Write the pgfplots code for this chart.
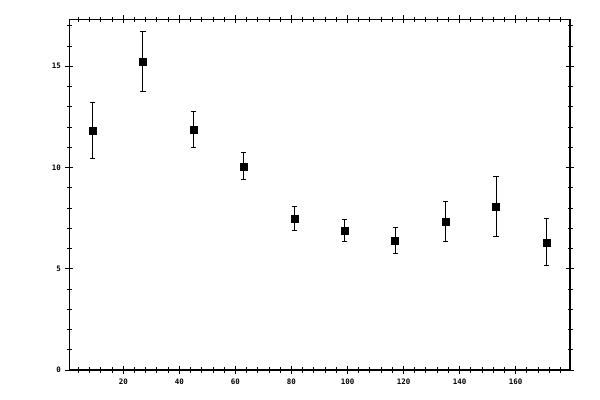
\documentclass[border=0pt]{standalone}
\usepackage{fontspec}
\setmainfont{DejaVu Sans Mono}
\usepackage{pgfplots}
\pgfplotsset{compat=1.18}

\begin{document}
\begin{tikzpicture}
% fixed page: 600 x 400 bp, axis box placed as in the reference
\path[use as bounding box] (-69.3bp,-30bp) rectangle (530.7bp,350.7bp+19.3bp);
\begin{axis}[
    scale only axis,
    width=500.7bp, height=350.7bp,
    at={(0,0)}, anchor=south west,
    xmin=0.7, xmax=179.4,
    ymin=0, ymax=17.32,
    xtick={20,40,...,160},
    ytick={0,5,10,15},
    minor xtick={4,8,...,176},
    minor ytick={1,2,...,17},
    tick pos=both,
    tick align=center,
    major tick length=8bp,
    minor tick length=5bp,
    axis line style={line width=1.1bp},
    every tick/.style={black, line width=1bp},
    tick label style={font=\bfseries\fontsize{7.5}{8}\selectfont},
    /pgf/number format/assume math mode=true,
    xticklabel style={yshift=-1bp},
    yticklabel style={xshift=-1bp},
]
\addplot[
    only marks,
    mark=square*,
    mark size=3.5bp,
    black,
    error bars/.cd,
        y dir=both, y explicit,
        error bar style={line width=1bp, black},
        error mark options={rotate=90, mark size=2.6bp, line width=1bp, black},
] coordinates {
    (9,11.84)   +- (0,1.38)
    (27,15.24)  +- (0,1.47)
    (45,11.89)  +- (0,0.89)
    (63,10.06)  +- (0,0.66)
    (81,7.49)   +- (0,0.59)
    (99,6.90)   +- (0,0.54)
    (117,6.40)  +- (0,0.64)
    (135,7.34)  +- (0,0.98)
    (153,8.08)  +- (0,1.47)
    (171,6.31)  +- (0,1.16)
};
\end{axis}
\end{tikzpicture}
\end{document}
